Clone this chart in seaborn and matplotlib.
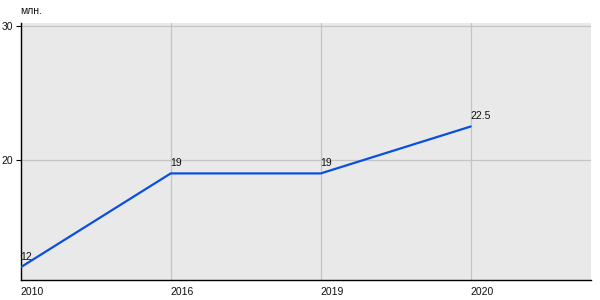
import matplotlib
matplotlib.use("Agg")
import matplotlib.pyplot as plt
import seaborn as sns
import pandas as pd

years = ["2010", "2016", "2019", "2020"]
values = [12, 19, 19, 22.5]
value_labels = ["12", "19", "19", "22.5"]
y_ticks = [20, 30]
unit_label = "млн."

sns.set_style("white")
plt.rcParams["font.family"] = ["Liberation Sans", "DejaVu Sans"]

df = pd.DataFrame({"year": years, "value": values})

fig = plt.figure(figsize=(6, 3), dpi=100)
ax = fig.add_axes([20.7 / 600, 20 / 300, 570 / 600, 257 / 300])
ax.set_facecolor("#e9e9e9")

sns.lineplot(data=df, x="year", y="value", ax=ax, color="#0a4fe0", linewidth=1.6, zorder=3)

ax.set_xlim(0, 3.8)
ax.set_ylim(11.05, 30.22)
ax.set_yticks(y_ticks)
ax.set_yticklabels([str(t) for t in y_ticks], fontsize=7.5, color="#111111")
ax.set_xticks(range(len(years)))
ax.set_xticklabels(years, fontsize=7.5, ha="left", color="#111111")
ax.grid(True, color="#c4c4c4", linewidth=0.9, zorder=0)
ax.set_axisbelow(True)
ax.tick_params(axis="y", length=3.5, width=0.8, color="black", pad=2, left=True)
ax.tick_params(axis="x", length=0, pad=5)
ax.set_xlabel("")
ax.set_ylabel("")
for s in ["top", "right"]:
    ax.spines[s].set_visible(False)
for s in ["left", "bottom"]:
    ax.spines[s].set_color("black")
    ax.spines[s].set_linewidth(1.0)

for i, (v, lab) in enumerate(zip(values, value_labels)):
    ax.annotate(lab, (i, v), xytext=(0, 4), textcoords="offset points",
                ha="left", va="bottom", fontsize=7.5, color="#111111")

ax.annotate(unit_label, (0, 1), xycoords="axes fraction", xytext=(0, 5),
            textcoords="offset points", ha="left", va="bottom", fontsize=7.5,
            color="#111111")

fig.savefig("out.png", dpi=100)
